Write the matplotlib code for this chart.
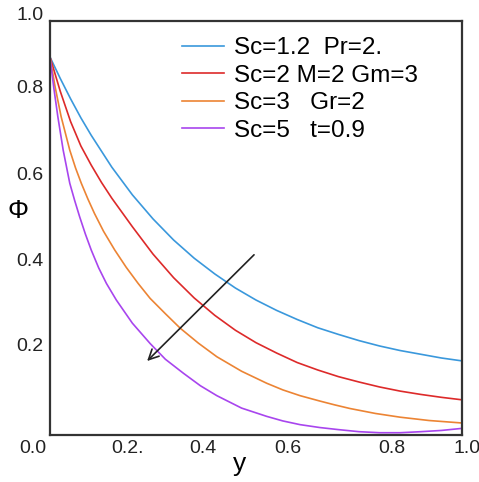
import numpy as np
import matplotlib
matplotlib.use('Agg')
import matplotlib.pyplot as plt

plt.rcParams['font.family'] = ['Liberation Sans', 'DejaVu Sans']

# curves (y, phi)
y_blue = [0, 0.025, 0.05, 0.075, 0.1, 0.15, 0.2, 0.25, 0.3, 0.35, 0.4, 0.45, 0.5,
          0.55, 0.6, 0.65, 0.7, 0.75, 0.8, 0.85, 0.9, 0.95, 1.0]
phi_blue = [0.913, 0.861, 0.812, 0.766, 0.724, 0.647, 0.580, 0.522, 0.471, 0.427, 0.389, 0.355, 0.326,
            0.301, 0.279, 0.259, 0.243, 0.228, 0.215, 0.204, 0.195, 0.186, 0.179]

y_red = [0, 0.025, 0.05, 0.075, 0.1, 0.125, 0.15, 0.2, 0.25, 0.3, 0.35, 0.4, 0.45, 0.5,
         0.55, 0.6, 0.65, 0.7, 0.75, 0.8, 0.85, 0.9, 0.95, 1.0]
phi_red = [0.913, 0.830, 0.757, 0.698, 0.652, 0.610, 0.572, 0.503, 0.437, 0.380, 0.331, 0.289, 0.253, 0.223,
           0.198, 0.175, 0.157, 0.141, 0.128, 0.116, 0.106, 0.098, 0.091, 0.085]

y_orange = [0, 0.012, 0.027, 0.048, 0.062, 0.076, 0.092, 0.108, 0.13, 0.157, 0.185, 0.214, 0.243, 0.28,
            0.316, 0.36, 0.405, 0.465, 0.526, 0.565, 0.607, 0.655, 0.69, 0.728, 0.79, 0.85, 0.92, 1.0]
phi_orange = [0.913, 0.843, 0.769, 0.688, 0.645, 0.608, 0.570, 0.535, 0.492, 0.447, 0.405, 0.366, 0.330, 0.293,
              0.258, 0.222, 0.189, 0.154, 0.125, 0.109, 0.095, 0.082, 0.073, 0.064, 0.052, 0.043, 0.035, 0.029]

y_purple = [0, 0.009, 0.019, 0.032, 0.048, 0.06, 0.072, 0.086, 0.100, 0.118, 0.137, 0.161, 0.2, 0.243,
            0.28, 0.324, 0.365, 0.405, 0.465, 0.526, 0.565, 0.607, 0.655, 0.7, 0.75, 0.8, 0.85, 0.9, 0.95, 1.0]
phi_purple = [0.913, 0.840, 0.769, 0.688, 0.608, 0.566, 0.527, 0.485, 0.447, 0.404, 0.366, 0.326, 0.270, 0.221,
              0.183, 0.149, 0.119, 0.095, 0.065, 0.045, 0.034, 0.025, 0.018, 0.013, 0.008, 0.0055, 0.0055, 0.008,
              0.011, 0.016]

labels = ['Sc=1.2  Pr=2.', 'Sc=2 M=2 Gm=3', 'Sc=3   Gr=2', 'Sc=5   t=0.9']
colors = ['#3a98dc', '#dd2a2a', '#ec8434', '#a845ee']

# tick labels sit where the picture has them (slightly off the grid)
xtick_pos = [-0.041, 0.187, 0.371, 0.578, 0.830, 1.012]
xtick_lab = ['0.0', '0.2.', '0.4', '0.6', '0.8', '1.0']
ytick_pos = [1.014, 0.838, 0.628, 0.418, 0.213]
ytick_lab = ['1.0', '0.8', '0.6', '0.4', '0.2']

arrow_start = (0.50, 0.44)
arrow_end = (0.231, 0.174)

fig = plt.figure(figsize=(4.79, 4.82), dpi=100)
ax = fig.add_axes([50/479, 47/482, 412/479, 414/482])

series = [(y_blue, phi_blue), (y_red, phi_red), (y_orange, phi_orange), (y_purple, phi_purple)]
for (xs, ys), lab, c in zip(series, labels, colors):
    ax.plot(xs, ys, color=c, lw=1.2, label=lab, solid_joinstyle='round')

ax.set_xlim(0, 1)
ax.set_ylim(0, 1)
ax.set_xticks([])
ax.set_yticks([])
for s in ax.spines.values():
    s.set_color('#333333')
    s.set_linewidth(1.6)

for p, t in zip(xtick_pos, xtick_lab):
    ax.text(p, -0.033, t, transform=ax.get_xaxis_transform(), ha='center', va='center',
            fontsize=14, color='#222222', clip_on=False)
for p, t in zip(ytick_pos, ytick_lab):
    ax.text(-0.015, p, t, transform=ax.get_yaxis_transform(), ha='right', va='center',
            fontsize=14, color='#222222', clip_on=False)

ax.text(0.46, -0.07, 'y', transform=ax.transAxes, ha='center', va='center', fontsize=19, clip_on=False)
ax.text(-0.077, 0.54, 'Φ', transform=ax.transAxes, ha='center', va='center', fontsize=19, clip_on=False)

ax.annotate('', xy=arrow_end, xytext=arrow_start,
            arrowprops=dict(arrowstyle='->', color='#222222', lw=1.2, mutation_scale=18))

ax.legend(loc='upper left', bbox_to_anchor=(0.32, 0.961), frameon=False, fontsize=17.5,
          handlelength=1.75, handletextpad=0.4, labelspacing=0.23, borderpad=0,
          borderaxespad=0)

fig.savefig('out.png', dpi=100)
